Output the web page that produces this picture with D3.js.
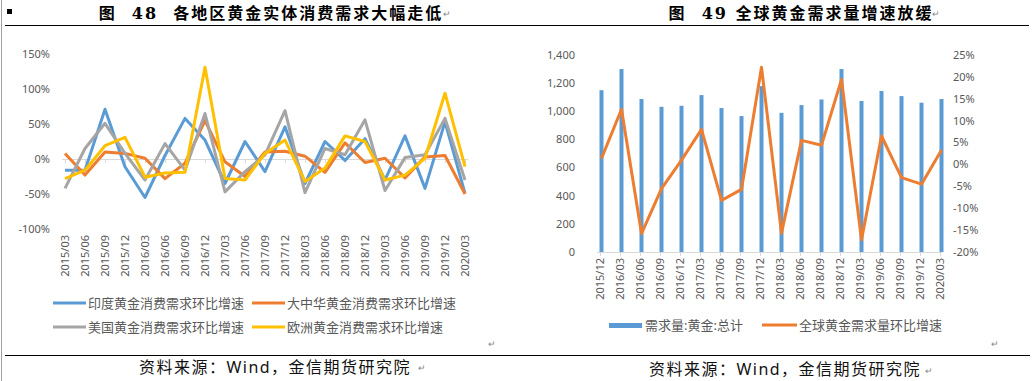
<!DOCTYPE html>
<html>
<head>
<meta charset="utf-8">
<script src="https://cdn.jsdelivr.net/npm/d3@7"></script>
<style>
  body { margin: 0; background: #fff; }
  svg { display: block; }
  text { font-family: "Noto Sans", "Noto Sans CJK SC", sans-serif; }
</style>
</head>
<body>
<svg id="chart" width="1032" height="381"></svg>
<script>
// left chart: regional quarter-on-quarter growth of gold consumption demand (%)
const leftCats = ['2015/03','2015/06','2015/09','2015/12','2016/03','2016/06','2016/09','2016/12',
  '2017/03','2017/06','2017/09','2017/12','2018/03','2018/06','2018/09','2018/12',
  '2019/03','2019/06','2019/09','2019/12','2020/03'];
const india  = [-16,-16,71,-11,-55,5,58,27,-35,25,-18,46,-35,25,-2,29,-30,33,-42,53,-49];
const china  = [8,-23,10,8,1,-28,-6,55,-4,-25,10,11,4,-19,23,-5,1,-27,3,5,-50];
const usa    = [-42,15,51,8,-30,22,-16,65,-47,-18,6,69,-48,15,6,56,-45,2,6,58,-30];
const europe = [-28,-16,19,31,-26,-20,-19,131,-28,-30,8,27,-32,-13,33,25,-30,-23,1,94,-11];
const leftTicks = [-100,-50,0,50,100,150];
const leftNames = ['印度黄金消费需求环比增速','大中华黄金消费需求环比增速','美国黄金消费需求环比增速','欧洲黄金消费需求环比增速'];

// right chart: global gold demand (tonnes) and its q/q growth (%)
const rightCats = ['2015/12','2016/03','2016/06','2016/09','2016/12','2017/03','2017/06','2017/09','2017/12',
  '2018/03','2018/06','2018/09','2018/12','2019/03','2019/06','2019/09','2019/12','2020/03'];
const demand = [1150,1300,1087,1032,1039,1115,1023,966,1179,989,1044,1084,1300,1073,1144,1108,1061,1087];
const growth = [1.4,12.6,-15.8,-5.5,1,8,-8.2,-5.7,22.2,-15.7,5.5,4.4,19.4,-17.2,6.5,-3,-4.5,3.3];
const demandTicks = [0,200,400,600,800,1000,1200,1400];
const growthTicks = [-20,-15,-10,-5,0,5,10,15,20,25];

const colors = ['#5b9bd5','#ed7d31','#a5a5a5','#ffc000'];
const txt = '#595959';
const svg = d3.select('#chart');

svg.append('rect').attr('width', 1032).attr('height', 381).attr('fill', '#fff');

// page decorations (titles, rules, sources)
svg.append('line').attr('x1', 1.5).attr('x2', 1.5).attr('y1', 0).attr('y2', 381)
  .attr('stroke', '#a0a0a0');
svg.append('rect').attr('x', 7).attr('y', 9).attr('width', 5).attr('height', 5).attr('fill', '#000');
svg.append('line').attr('x1', 5).attr('x2', 1029).attr('y1', 25.5).attr('y2', 25.5).attr('stroke', '#000');
svg.append('line').attr('x1', 5).attr('x2', 1030).attr('y1', 355.5).attr('y2', 355.5).attr('stroke', '#000');

const titleFont = '"DejaVu Serif", "Noto Sans CJK SC", serif';
svg.append('text').attr('x', 271).attr('y', 19).attr('text-anchor', 'middle')
  .style('font-family', titleFont).style('font-weight', 'bold').style('font-size', '16px')
  .style('letter-spacing', '2px').style('white-space', 'pre')
  .text('图  48  各地区黄金实体消费需求大幅走低');
svg.append('text').attr('x', 801).attr('y', 19).attr('text-anchor', 'middle')
  .style('font-family', titleFont).style('font-weight', 'bold').style('font-size', '16px')
  .style('letter-spacing', '2px').style('white-space', 'pre')
  .text('图  49 全球黄金需求量增速放缓');

svg.append('text').attr('x', 275).attr('y', 373).attr('text-anchor', 'middle')
  .style('font-size', '16px').style('letter-spacing', '1.5px').attr('fill', '#111')
  .text('资料来源：Wind，金信期货研究院');
svg.append('text').attr('x', 785).attr('y', 375).attr('text-anchor', 'middle')
  .style('font-size', '16px').style('letter-spacing', '1.5px').attr('fill', '#111')
  .text('资料来源：Wind，金信期货研究院');

[[443, 17], [932, 17], [488, 347], [991, 347], [418, 371], [925, 374]].forEach(p => {
  svg.append('text').attr('x', p[0]).attr('y', p[1]).style('font-size', '9px')
    .attr('fill', '#888').text('↵');
});

// ---------- left chart ----------
const xL = d3.scalePoint().domain(leftCats).range([65, 465]);
const yL = d3.scaleLinear().domain([-100, 150]).range([229, 54]);

const gl = svg.append('g');
gl.selectAll('.ytl').data(leftTicks).enter().append('text')
  .attr('x', 50).attr('y', d => yL(d)).attr('dy', '0.35em').attr('text-anchor', 'end')
  .attr('fill', txt).style('font-size', '11px').text(d => d + '%');

const axL = gl.append('g').attr('transform', `translate(0,${yL(0)})`)
  .call(d3.axisBottom(xL).tickSize(4).tickFormat(''));
axL.select('.domain').attr('d', 'M62,0.5H468').attr('stroke', '#d9d9d9');
axL.selectAll('.tick line').attr('stroke', '#d9d9d9');

gl.selectAll('.xtl').data(leftCats).enter().append('text')
  .attr('transform', d => `translate(${xL(d)},235) rotate(-90)`)
  .attr('dy', '0.35em').attr('text-anchor', 'end')
  .attr('fill', txt).style('font-size', '11px').text(d => d);

const lineL = d3.line().x((d, i) => xL(leftCats[i])).y(d => yL(d));
[india, china, usa, europe].forEach((s, k) => {
  gl.append('path').datum(s).attr('d', lineL).attr('fill', 'none')
    .attr('stroke', colors[k]).attr('stroke-width', 3).attr('stroke-linejoin', 'round');
});

// legend
const legPos = [[53, 303], [252, 303], [53, 327], [252, 327]];
leftNames.forEach((n, k) => {
  const [lx, ly] = legPos[k];
  gl.append('line').attr('x1', lx).attr('x2', lx + 33).attr('y1', ly).attr('y2', ly)
    .attr('stroke', colors[k]).attr('stroke-width', 3);
  gl.append('text').attr('x', lx + 35).attr('y', ly).attr('dy', '0.35em')
    .attr('fill', txt).style('font-size', '13px').text(n);
});

// ---------- right chart ----------
const xR = d3.scalePoint().domain(rightCats).range([600, 940]);
const yD = d3.scaleLinear().domain([0, 1400]).range([252, 55]);
const yG = d3.scaleLinear().domain([-20, 25]).range([252, 55]);

const gr = svg.append('g');
gr.selectAll('.ytd').data(demandTicks).enter().append('text')
  .attr('x', 575).attr('y', d => yD(d)).attr('dy', '0.35em').attr('text-anchor', 'end')
  .attr('fill', txt).style('font-size', '11px').text(d => d3.format(',')(d));
gr.selectAll('.ytg').data(growthTicks).enter().append('text')
  .attr('x', 953).attr('y', d => yG(d)).attr('dy', '0.35em').attr('text-anchor', 'start')
  .attr('fill', txt).style('font-size', '11px').text(d => d + '%');

gr.selectAll('.bar').data(demand).enter().append('rect')
  .attr('x', (d, i) => xR(rightCats[i]) - 0.5).attr('width', 4)
  .attr('y', d => yD(d)).attr('height', d => yD(0) - yD(d))
  .attr('fill', colors[0]);

const axR = gr.append('g').attr('transform', `translate(0,${yD(0)})`)
  .call(d3.axisBottom(xR).tickSize(4).tickFormat(''));
axR.select('.domain').attr('d', 'M597,0.5H942').attr('stroke', '#d9d9d9');
axR.selectAll('.tick line').attr('stroke', '#d9d9d9');

gr.selectAll('.xtr').data(rightCats).enter().append('text')
  .attr('transform', d => `translate(${xR(d)},258) rotate(-90)`)
  .attr('dy', '0.35em').attr('text-anchor', 'end')
  .attr('fill', txt).style('font-size', '11px').text(d => d);

const lineR = d3.line().x((d, i) => xR(rightCats[i]) + 1.5).y(d => yG(d));
gr.append('path').datum(growth).attr('d', lineR).attr('fill', 'none')
  .attr('stroke', colors[1]).attr('stroke-width', 3).attr('stroke-linejoin', 'round');

gr.append('rect').attr('x', 609).attr('y', 323).attr('width', 33).attr('height', 5).attr('fill', colors[0]);
gr.append('text').attr('x', 645).attr('y', 325).attr('dy', '0.35em')
  .attr('fill', txt).style('font-size', '13px').text('需求量:黄金:总计');
gr.append('line').attr('x1', 762).attr('x2', 797).attr('y1', 325).attr('y2', 325)
  .attr('stroke', colors[1]).attr('stroke-width', 3);
gr.append('text').attr('x', 799).attr('y', 325).attr('dy', '0.35em')
  .attr('fill', txt).style('font-size', '13px').text('全球黄金需求量环比增速');
</script>
</body>
</html>
